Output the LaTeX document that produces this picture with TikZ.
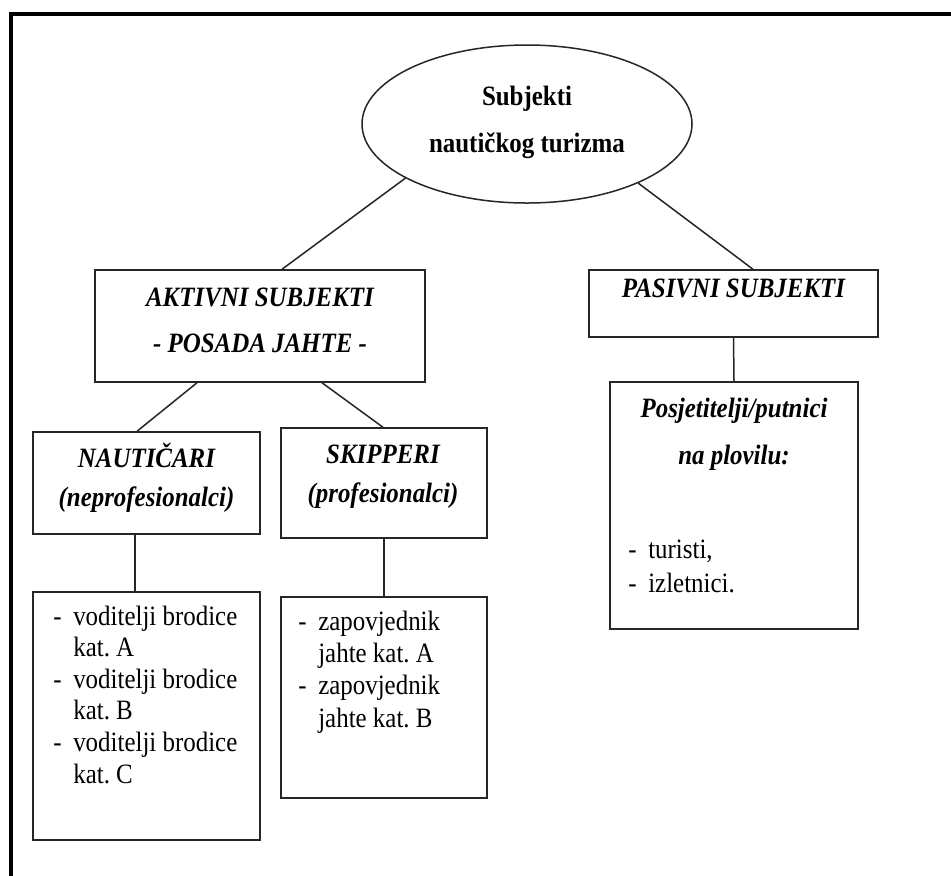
\documentclass[tikz,border=0pt]{standalone}
\usepackage{fontspec}
\setmainfont{Liberation Serif}[FakeStretch=0.89]
\usetikzlibrary{shapes.geometric,calc}
\begin{document}
\frenchspacing
\begin{tikzpicture}[x=0.5pt,y=-0.5pt,
  box/.style={draw=black!85, line width=0.75pt, inner sep=0pt, fill=white},
  conn/.style={draw=black!85, line width=0.75pt},
  bold/.style={inner sep=0pt, anchor=base, font=\fontsize{14pt}{15pt}\selectfont\bfseries},
  head/.style={inner sep=0pt, anchor=base, font=\fontsize{14pt}{15pt}\selectfont\bfseries\itshape},
  plain/.style={inner sep=0pt, anchor=base west, font=\fontsize{14pt}{#1}\selectfont},
]
\useasboundingbox (0,0) rectangle (951,875);
\fill[white] (0,0) rectangle (951,875);
\draw[line width=2pt] (11,890) -- (11,14) -- (970,14);

% boxes
\node[box, ellipse, minimum width=165pt, minimum height=79pt] (ell) at (527,124) {};
\node[box, minimum width=165pt, minimum height=56pt] (akt) at (260,326) {};
\node[box, minimum width=144.5pt, minimum height=33.5pt] (pas) at (733.5,303.5) {};
\node[box, minimum width=113.5pt, minimum height=51pt] (naut) at (146.5,483) {};
\node[box, minimum width=103pt, minimum height=55pt] (skip) at (384,483) {};
\node[box, minimum width=113.5pt, minimum height=124pt] (list1) at (146.5,716) {};
\node[box, minimum width=103pt, minimum height=100.5pt] (list2) at (384,697.5) {};
\node[box, minimum width=124pt, minimum height=123.5pt] (posj) at (734,505.5) {};

% connectors
\draw[conn] (ell.204) -- ($(akt.north)+(22,0)$);
\draw[conn] (ell.332) -- ($(pas.north)+(19.5,0)$);
\draw[conn] ($(akt.south)+(-63,0)$) -- ($(naut.north)+(-9.5,0)$);
\draw[conn] ($(akt.south)+(62,0)$) -- ($(skip.north)+(-1,0)$);
\draw[conn] ($(naut.south)+(-11.5,0)$) -- ($(list1.north)+(-11.5,0)$);
\draw[conn] (skip.south) -- (list2.north);
\draw[conn] (pas.south) -- (posj.north);

% texts
\node[bold] (t1) at (527,105) {Subjekti};
\node[bold] (t2) at (527,152) {nautičkog turizma};
\node[head] (t3) at (260,306) {AKTIVNI SUBJEKTI};
\node[head] (t4) at (260,352) {- POSADA JAHTE -};
\node[head] (t5) at (733.5,297) {PASIVNI SUBJEKTI};
\node[head] (t6) at (146.5,467) {NAUTIČARI};
\node[head] (t7) at (146.5,506) {(neprofesionalci)};
\node[head] (t8) at (383,463) {SKIPPERI};
\node[head] (t9) at (383,502) {(profesionalci)};
\node[head] (t10) at (734,417) {Posjetitelji/putnici};
\node[head] (t11) at (734,464) {na plovilu:};

\node[plain=15.8pt] (l1) at (53,625) {\begin{tabular}[t]{@{}l@{\hspace{5.8pt}}l@{}}
-&voditelji brodice\\ &kat. A\\
-&voditelji brodice\\ &kat. B\\
-&voditelji brodice\\ &kat. C\end{tabular}};
\node[plain=16.2pt] (l2) at (298,630) {\begin{tabular}[t]{@{}l@{\hspace{5.8pt}}l@{}}
-&zapovjednik\\ &jahte kat. A\\
-&zapovjednik\\ &jahte kat. B\end{tabular}};
\node[plain=17pt] (l3) at (628,558) {\begin{tabular}[t]{@{}l@{\hspace{5.8pt}}l@{}}
-&turisti,\\
-&izletnici.\end{tabular}};
\end{tikzpicture}
\end{document}
